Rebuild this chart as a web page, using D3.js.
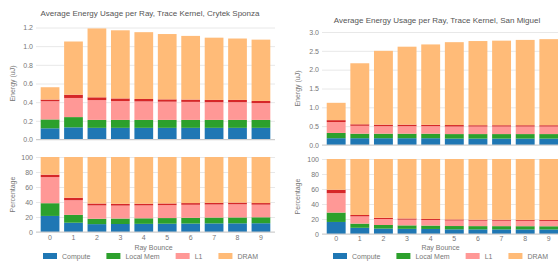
<!DOCTYPE html>
<html>
<head>
<meta charset="utf-8">
<script src="https://cdn.jsdelivr.net/npm/d3@7"></script>
<style>
  body { margin: 0; background: #fff; }
  svg { display: block; font-family: "Liberation Sans", Arial, sans-serif; }
</style>
</head>
<body>
<div id="chart"></div>
<script>
const bounces = ["0", "1", "2", "3", "4", "5", "6", "7", "8", "9"];
const seriesKeys = ["Compute", "Local Mem", "L1", "L1 Tag", "DRAM"];
const seriesColors = ["#1f77b4", "#2ca02c", "#ff9896", "#d62728", "#ffbb78"];
const legendKeys = ["Compute", "Local Mem", "L1", "DRAM"];
const legendColors = ["#1f77b4", "#2ca02c", "#ff9896", "#ffbb78"];

// Crytek Sponza, energy per ray (uJ)
const sponzaCompute = [0.12, 0.13, 0.125, 0.125, 0.125, 0.125, 0.125, 0.125, 0.125, 0.125];
const sponzaLocalMem = [0.095, 0.11, 0.085, 0.085, 0.085, 0.085, 0.085, 0.085, 0.085, 0.085];
const sponzaL1 = [0.195, 0.205, 0.212, 0.202, 0.198, 0.195, 0.193, 0.19, 0.19, 0.18];
const sponzaL1Tag = [0.018, 0.035, 0.03, 0.028, 0.026, 0.025, 0.025, 0.024, 0.024, 0.023];
const sponzaDram = [0.132, 0.57, 0.738, 0.73, 0.716, 0.70, 0.682, 0.667, 0.658, 0.657];

// San Miguel, energy per ray (uJ)
const miguelCompute = [0.18, 0.18, 0.18, 0.18, 0.18, 0.17, 0.17, 0.17, 0.17, 0.17];
const miguelLocalMem = [0.14, 0.12, 0.12, 0.12, 0.12, 0.12, 0.12, 0.12, 0.12, 0.12];
const miguelL1 = [0.29, 0.21, 0.2, 0.2, 0.2, 0.2, 0.2, 0.2, 0.2, 0.2];
const miguelL1Tag = [0.05, 0.04, 0.04, 0.04, 0.035, 0.04, 0.035, 0.035, 0.035, 0.035];
const miguelDram = [0.46, 1.62, 1.96, 2.07, 2.135, 2.20, 2.235, 2.245, 2.265, 2.285];

const sponzaTicks = [0, 0.2, 0.4, 0.6, 0.8, 1.0, 1.2];
const miguelTicks = [0, 0.5, 1.0, 1.5, 2.0, 2.5, 3.0];
const percentTicks = [0, 20, 40, 60, 80, 100];

function makeRows(cols) {
  return bounces.map((b, i) => {
    var row = { bounce: b };
    seriesKeys.forEach((k, j) => row[k] = cols[j][i]);
    return row;
  });
}

const svg = d3.select("#chart").append("svg")
  .attr("width", 558)
  .attr("height", 261);

function drawPanel(p) {
  var g = svg.append("g");
  var x = d3.scaleBand().domain(bounces).range([p.x0, p.x1]).padding(0.2);
  var stack = d3.stack().keys(seriesKeys);
  var color = d3.scaleOrdinal(seriesKeys, seriesColors);

  // percentage rows
  var pctRows = p.rows.map(r => {
    var s = d3.sum(seriesKeys, k => r[k]);
    var o = { bounce: r.bounce };
    seriesKeys.forEach(k => o[k] = 100 * r[k] / s);
    return o;
  });

  var panels = [
    { rows: p.rows, y: d3.scaleLinear([0, p.eMax], [p.eBottom, p.eTop]), ticks: p.eTicks, fmt: d3.format(".1f"), label: "Energy (uJ)" },
    { rows: pctRows, y: d3.scaleLinear([0, 100], [p.pBottom, p.pTop]), ticks: percentTicks, fmt: d3.format("d"), label: "Percentage" }
  ];

  panels.forEach(pan => {
    var ax = g.append("g")
      .attr("transform", "translate(" + p.x0 + ",0)")
      .call(d3.axisLeft(pan.y).tickValues(pan.ticks).tickFormat(pan.fmt)
        .tickSize(-(p.x1 - p.x0)).tickPadding(3));
    ax.select(".domain").remove();
    ax.selectAll("line").attr("stroke", "#e8e8e8");
    ax.selectAll("text").attr("fill", "#777").style("font-size", "7px");

    g.selectAll(null)
      .data(stack(pan.rows))
      .enter().append("g")
      .attr("fill", d => color(d.key))
      .selectAll("rect")
      .data(d => d)
      .enter().append("rect")
      .attr("x", d => x(d.data.bounce))
      .attr("width", x.bandwidth())
      .attr("y", d => pan.y(d[1]))
      .attr("height", d => pan.y(d[0]) - pan.y(d[1]));

    g.append("line")
      .attr("x1", p.x0).attr("x2", p.x1)
      .attr("y1", pan.y(0)).attr("y2", pan.y(0))
      .attr("stroke", "#ccc");

    var r = pan.y.range();
    g.append("text")
      .attr("transform", "translate(" + p.labelX + "," + (r[0] + r[1]) / 2 + ") rotate(-90)")
      .attr("text-anchor", "middle")
      .attr("fill", "#777")
      .style("font-size", "7px")
      .text(pan.label);
  });

  var xa = g.append("g")
    .attr("transform", "translate(0," + p.tickY + ")")
    .call(d3.axisBottom(x).tickSize(0).tickPadding(0));
  xa.select(".domain").remove();
  xa.selectAll("text").attr("fill", "#777").style("font-size", "7px");

  g.append("text")
    .attr("x", (p.x0 + p.x1) / 2 - 2)
    .attr("y", p.rayY)
    .attr("text-anchor", "middle")
    .attr("fill", "#777")
    .style("font-size", "7px")
    .text("Ray Bounce");

  g.append("text")
    .attr("x", p.titleX)
    .attr("y", p.titleY)
    .attr("text-anchor", "middle")
    .attr("fill", "#555")
    .style("font-size", "8px")
    .text(p.title);

  // legend
  var lx = p.legendX;
  legendKeys.forEach((k, i) => {
    g.append("rect")
      .attr("x", lx).attr("y", p.legendY - 3)
      .attr("width", 14).attr("height", 6)
      .attr("fill", legendColors[i]);
    var t = g.append("text")
      .attr("x", lx + 19).attr("y", p.legendY + 2.5)
      .attr("fill", "#777")
      .style("font-size", "7px")
      .text(k);
    lx += 19 + t.node().getComputedTextLength() + 16;
  });
}

drawPanel({
  title: "Average Energy Usage per Ray, Trace Kernel, Crytek Sponza",
  rows: makeRows([sponzaCompute, sponzaLocalMem, sponzaL1, sponzaL1Tag, sponzaDram]),
  x0: 36, x1: 275, titleX: 150, titleY: 16,
  eMax: 1.2, eTop: 27.5, eBottom: 139.5, eTicks: sponzaTicks,
  pTop: 157, pBottom: 232, tickY: 235, rayY: 250,
  labelX: 15, legendX: 43, legendY: 256
});

drawPanel({
  title: "Average Energy Usage per Ray, Trace Kernel, San Miguel",
  rows: makeRows([miguelCompute, miguelLocalMem, miguelL1, miguelL1Tag, miguelDram]),
  x0: 322, x1: 563, titleX: 437, titleY: 23,
  eMax: 3.0, eTop: 32, eBottom: 145, eTicks: miguelTicks,
  pTop: 159, pBottom: 234, tickY: 236, rayY: 250,
  labelX: 300, legendX: 333, legendY: 256
});
</script>
</body>
</html>
